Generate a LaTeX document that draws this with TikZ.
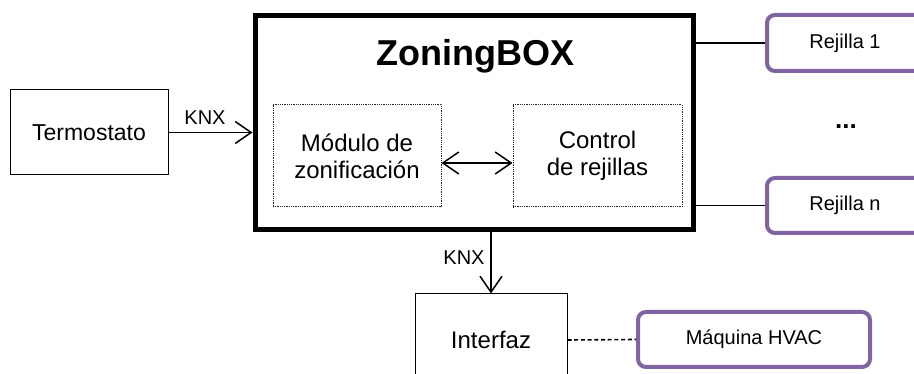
\documentclass[tikz,border=0pt]{standalone}
\usepackage{fontspec}
\setmainfont{Liberation Sans}
\usetikzlibrary{arrows.meta}
\definecolor{gridpurple}{HTML}{8064A2}
\tikzset{
  plainbox/.style={draw=black, line width=1pt, fill=white, align=center, inner sep=0pt},
  mainbox/.style={draw=black, line width=5pt, inner sep=0pt},
  modbox/.style={draw=black!85, line width=1pt, dash pattern=on 0.9pt off 0.9pt,
    align=center, inner sep=0pt, font=\fontsize{24}{26.6}\selectfont},
  purplebox/.style={draw=gridpurple, line width=4pt, rounded corners=8pt, fill=white,
    inner sep=0pt, font=\fontsize{20}{22}\selectfont},
  wire/.style={draw=black, line width=1.3pt},
  arrowwire/.style={wire, -{Straight Barb[length=16pt,width=22pt,line width=1.5pt]}},
  biwire/.style={wire, {Straight Barb[length=16pt,width=22pt,line width=1.5pt]}-{Straight Barb[length=16pt,width=22pt,line width=1.5pt]}},
  dashwire/.style={draw=black, line width=1.6pt, dash pattern=on 4pt off 2.7pt},
  lbl/.style={inner sep=0pt, font=\fontsize{20}{22}\selectfont}
}
\begin{document}
\begin{tikzpicture}[x=1pt, y=-1pt]
  \useasboundingbox (0,0) rectangle (914,374);
  \clip (0,0) rectangle (914,374);
  \fill[white] (0,0) rectangle (914,374);

  % thermostat
  \node[plainbox, minimum width=158pt, minimum height=85pt,
        font=\fontsize{23}{25}\selectfont] (termo) at (89,132.5) {Termostato};

  % zoning controller with its two modules
  \node[mainbox, minimum width=438pt, minimum height=214pt] (zbox) at (474,123) {};
  \node[inner sep=0pt, font=\fontsize{36}{38}\selectfont\bfseries] (title) at (475,56) {ZoningBOX};
  \node[modbox, minimum width=168pt, minimum height=102pt] (mod) at (357,156)
       {Módulo de\\zonificación};
  \node[modbox, minimum width=169pt, minimum height=102pt] (ctl) at (597.5,156)
       {Control\\de rejillas};

  % grilles
  \node[purplebox, minimum width=156pt, minimum height=56pt] (rej1) at (845,43) {Rejilla 1};
  \node[purplebox, minimum width=156pt, minimum height=55pt] (rejn) at (845,205.5) {Rejilla n};
  \node[inner sep=0pt, anchor=base, font=\fontsize{26}{28}\selectfont\bfseries] (dots) at (846,129) {...};

  % interface and HVAC unit
  \node[plainbox, minimum width=152pt, minimum height=92pt,
        font=\fontsize{24}{26}\selectfont] (intf) at (491,340) {Interfaz};
  \node[purplebox, minimum width=232pt, minimum height=55pt] (hvac) at (754,339.5) {Máquina HVAC};

  % connections
  \draw[arrowwire] (termo.east) -- (termo.east -| zbox.west);
  \node[lbl] (knx1) at (205,118) {KNX};
  \draw[biwire] ([yshift=-7pt]mod.east) -- ([yshift=-7pt]ctl.west);
  \draw[wire] (rej1.west -| zbox.east) -- (rej1.west);
  \draw[wire] (rejn.west -| zbox.east) -- (rejn.west);
  \draw[arrowwire] (intf.north |- zbox.south) -- (intf.north);
  \node[lbl] (knx2) at (464,258) {KNX};
  \draw[dashwire] (intf.east) -- (hvac.west);
\end{tikzpicture}
\end{document}
